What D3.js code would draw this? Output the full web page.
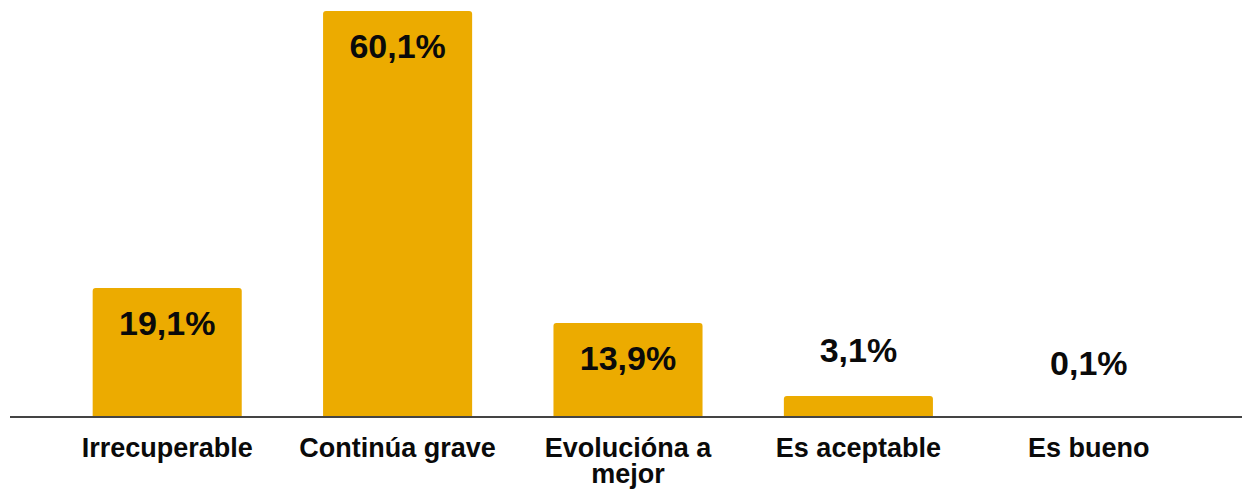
<!DOCTYPE html>
<html>
<head>
<meta charset="utf-8">
<script src="https://cdn.jsdelivr.net/npm/d3@7"></script>
<style>
  html, body { margin: 0; padding: 0; background: #fff; }
  svg { display: block; }
  text { font-family: "Liberation Sans", Arial, sans-serif; font-weight: bold; fill: #0a0a0a; }
</style>
</head>
<body>
<svg id="chart" width="1242" height="495"></svg>
<script>
const categories = ["Irrecuperable", "Continúa grave", "Evolucióna a mejor", "Es aceptable", "Es bueno"];
const values = [19.1, 60.1, 13.9, 3.1, 0.1];
const valueLabels = ["19,1%", "60,1%", "13,9%", "3,1%", "0,1%"];

const W = 1242, H = 495;
const baseY = 417, topY = 11;
const svg = d3.select("#chart");

const x = d3.scaleBand()
  .domain(categories)
  .range([52, 1204])
  .paddingInner(0.353)
  .paddingOuter(0.1765);

const y = d3.scaleLinear()
  .domain([0, 60.1])
  .range([baseY, topY]);

const data = categories.map((c, i) => ({ c, v: values[i], label: valueLabels[i] }));

function barPath(d) {
  const x0 = x(d.c), w = x.bandwidth(), y0 = y(d.v), h = baseY - y0;
  const r = Math.min(3, h / 2, w / 2);
  return `M${x0},${baseY}V${y0 + r}Q${x0},${y0} ${x0 + r},${y0}H${x0 + w - r}Q${x0 + w},${y0} ${x0 + w},${y0 + r}V${baseY}Z`;
}

svg.append("g").selectAll("path")
  .data(data)
  .enter().append("path")
  .attr("d", barPath)
  .attr("fill", "#ECAB00");

svg.append("line")
  .attr("x1", 10).attr("x2", W)
  .attr("y1", baseY).attr("y2", baseY)
  .attr("stroke", "#444").attr("stroke-width", 2);

svg.append("g").selectAll("text")
  .data(data)
  .enter().append("text")
  .attr("x", d => x(d.c) + x.bandwidth() / 2)
  .attr("y", d => {
    const inside = (baseY - y(d.v)) > 60;
    return inside ? y(d.v) + 47 : Math.min(y(d.v), y(1.2)) - 34;
  })
  .attr("text-anchor", "middle")
  .style("font-size", "34px")
  .text(d => d.label);

const step = x.step();
const catG = svg.append("g");
data.forEach(d => {
  const cx = x(d.c) + x.bandwidth() / 2;
  const words = d.c.split(" ");
  const lines = [];
  let line = [];
  const probe = catG.append("text").style("font-size", "27px");
  words.forEach(w => {
    line.push(w);
    probe.text(line.join(" "));
    if (probe.node().getComputedTextLength() > step - 4 && line.length > 1) {
      line.pop();
      lines.push(line.join(" "));
      line = [w];
    }
  });
  lines.push(line.join(" "));
  probe.remove();
  lines.forEach((l, i) => {
    catG.append("text")
      .attr("x", cx)
      .attr("y", 456.5 + i * 26.5)
      .attr("text-anchor", "middle")
      .style("font-size", "27px")
      .text(l);
  });
});
</script>
</body>
</html>
